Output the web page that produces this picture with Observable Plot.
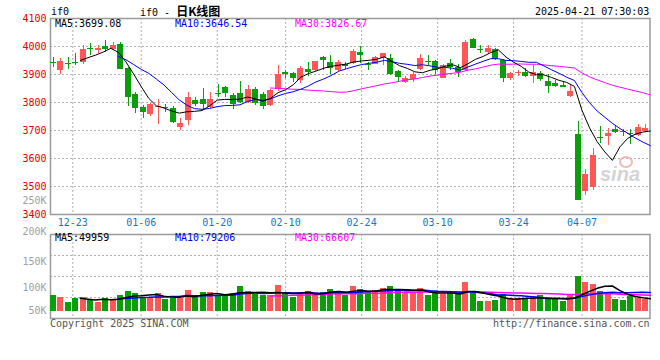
<!DOCTYPE html>
<html><head><meta charset="utf-8">
<script src="https://cdn.jsdelivr.net/npm/d3@7"></script>
<script src="https://cdn.jsdelivr.net/npm/@observablehq/plot@0.6"></script>
<style>
body{margin:0;background:#fff;}
#chart{position:relative;width:660px;height:360px;overflow:hidden;background:#fff;font-family:"DejaVu Sans Mono",monospace;}
#chart svg{position:absolute;left:0;top:0;}
.t{position:absolute;font-size:10px;white-space:pre;line-height:10px;font-family:"DejaVu Sans Mono",monospace;}
</style></head><body><div id="chart"></div>
<script>
// ---- data ----
const dates = ["12-18","12-19","12-20","12-23","12-24","12-25","12-26","12-27","12-30","12-31",
"01-02","01-03","01-06","01-07","01-08","01-09","01-10","01-13","01-14","01-15",
"01-16","01-17","01-20","01-21","01-22","01-23","01-24","01-27","02-05","02-06",
"02-07","02-10","02-11","02-12","02-13","02-14","02-17","02-18","02-19","02-20",
"02-21","02-24","02-25","02-26","02-27","02-28","03-03","03-04","03-05","03-06",
"03-07","03-10","03-11","03-12","03-13","03-14","03-17","03-18","03-19","03-20",
"03-21","03-24","03-25","03-26","03-27","03-28","03-31","04-01","04-02","04-03",
"04-07","04-08","04-09","04-10","04-11","04-14","04-15","04-16","04-17","04-18"];
const open = [3944,3913,3940,3944,3942,3994,3985,3999,3989,4008,3923,3830,3783,3756,3782,3782,3780,3710,3735,3808,3811,3782,3833,3855,3825,3833,3799,3846,3829,3788,3846,3908,3904,3880,3918,3913,3961,3943,3913,3935,3939,3980,3936,3936,3958,3956,3911,3873,3882,3917,3947,3946,3885,3939,3925,3913,4025,3988,3977,3989,3949,3885,3904,3906,3892,3905,3876,3867,3859,3822,3684,3481,3495,3676,3677,3705,3696,3691,3682,3698];
const high = [3961,3958,3961,3975,4002,4011,4002,4023,4015,4013,3925,3837,3789,3796,3811,3794,3786,3742,3837,3818,3850,3837,3866,3858,3832,3876,3862,3853,3837,3846,3931,3913,3908,3930,3944,3947,3965,3969,3949,3944,3990,3999,3942,3965,3975,3973,3915,3894,3906,3973,3968,3949,3935,3954,3937,4023,4030,4004,4004,3992,3954,3908,3915,3920,3931,3910,3901,3879,3874,3860,3731,3560,3636,3714,3708,3717,3703,3703,3722,3722];
const low = [3925,3899,3919,3931,3937,3969,3975,3977,3985,3917,3785,3761,3742,3750,3720,3763,3725,3701,3719,3785,3773,3780,3818,3817,3775,3795,3797,3789,3775,3787,3838,3886,3870,3868,3894,3912,3915,3901,3911,3918,3935,3939,3913,3935,3931,3895,3873,3868,3870,3914,3932,3899,3884,3913,3889,3911,3992,3975,3971,3951,3873,3880,3892,3889,3869,3876,3831,3854,3853,3817,3450,3467,3486,3653,3648,3690,3677,3651,3677,3693];
const close = [3940,3948,3935,3938,3990,3989,3994,3989,4005,3919,3817,3780,3763,3794,3786,3778,3727,3725,3818,3794,3792,3811,3827,3832,3792,3800,3846,3797,3787,3844,3901,3899,3885,3923,3908,3946,3949,3920,3943,3930,3982,3967,3932,3961,3975,3899,3889,3886,3899,3958,3943,3915,3933,3925,3906,4014,3994,3984,3994,3954,3885,3904,3908,3892,3908,3881,3857,3857,3855,3839,3451,3543,3612,3672,3689,3693,3692,3687,3711,3708];
const volume = [85100,80900,69900,78700,80900,75900,70600,78700,74400,85100,93400,89300,81500,81500,89300,76600,79400,79400,95500,81500,91400,91400,85800,83600,89300,103500,93400,87200,85800,85100,105500,88700,81500,87200,93400,91400,91400,97500,93400,85100,103500,97500,91400,95500,99500,103500,97500,89300,89300,99500,85100,89300,87800,89300,89300,111400,89300,72200,72200,75000,87200,78700,78700,76600,78700,85100,76600,76600,72200,85100,122900,111400,107500,93400,87200,76600,74400,83000,79400,77200];
const priceTicks = [3400,3500,3600,3700,3800,3900,4000,4100];
const volumeTicks = [50000,100000,150000,200000,250000];
const dateTicks = ["12-23","01-06","01-20","02-10","02-24","03-10","03-24","04-07"];
const maWindows = [30,10,5];
const priceLegend = ["MA5:3699.08","MA10:3646.54","MA30:3826.67"];
const volumeLegend = ["MA5:49959","MA10:79206","MA30:66607"];

// ---- styles ----
const UP = "#ff5757", DOWN = "#0a9f0a";
const MA_COLORS = {5: "#000000", 10: "#0000ff", 30: "#ff00ff"};
const GRID = "#b0b0b0";
const W = 660, H = 360;

const bars = dates.map((date, i) => ({date, open: open[i], high: high[i], low: low[i], close: close[i], volume: volume[i], dir: close[i] >= open[i] ? "up" : "down"}));

const color = {domain: ["up", "down"], range: [UP, DOWN]};
const candleX = {type: "band", domain: dates, range: [49, 649], padding: 0, round: false, axis: null};
const lineX = {type: "point", domain: dates, range: [49.5, 649.9], padding: 0, round: false, axis: null};
const priceY = {domain: [3400, 4100], axis: null};
const volY = {type: "pow", exponent: 1.3, domain: [50000, 250000], range: [310.5, 200], clamp: true, axis: null};
const mainM = {marginTop: 18, marginBottom: 146, marginLeft: 50, marginRight: 10.5};
const volM = {marginTop: 234, marginBottom: 42, marginLeft: 50, marginRight: 10.5};

const chart = document.getElementById("chart");
function layer(opts) {
  const svg = Plot.plot({width: W, height: H, color, ...opts,
    style: {background: "transparent", overflow: "visible", fontFamily: "DejaVu Sans Mono, monospace", fontSize: "10px"}});
  chart.appendChild(svg);
}
const dotted = {stroke: GRID, strokeOpacity: 1, strokeDasharray: "2,2"};

// main: grid + x labels + frame
layer({...mainM, x: lineX, y: priceY, marks: [
  Plot.gridY(priceTicks.slice(1, -1), dotted),
  Plot.gridX(dateTicks, dotted),
  Plot.axisX(dateTicks, {anchor: "bottom", tickSize: 0, tickPadding: 4, fill: "#1478c8", label: null}),
  Plot.frame({stroke: "#9a9a9a", strokeWidth: 1.5})
]});
// main: candles + price axis
layer({...mainM, x: candleX, y: priceY, marks: [
  Plot.axisY(priceTicks, {anchor: "left", tickSize: 0, tickPadding: 4, fill: "#e00000", label: null, tickFormat: d => String(d)}),
  Plot.ruleX(bars, {x: "date", y1: "low", y2: "high", stroke: "dir", shapeRendering: "crispEdges"}),
  Plot.barY(bars, {x: "date", y1: "open", y2: "close", fill: "dir", insetLeft: 0.75, insetRight: 0.75, shapeRendering: "crispEdges"})
]});
// main: moving averages
layer({...mainM, x: lineX, y: priceY, marks: maWindows.map(k =>
  Plot.lineY(bars, Plot.windowY({k, anchor: "end", reduce: "mean", strict: true}, {x: "date", y: "close", stroke: MA_COLORS[k], strokeWidth: 1}))
)});
// volume: grid + frame
layer({...volM, x: lineX, y: {domain: [0, 4], axis: null}, marks: [
  Plot.gridY([1, 2, 3], dotted),
  Plot.gridX(dateTicks, dotted),
  Plot.frame({stroke: "#9a9a9a", strokeWidth: 1.5})
]});
// volume: bars + axis
layer({...volM, x: candleX, y: volY, marks: [
  Plot.axisY(volumeTicks, {anchor: "left", tickSize: 0, tickPadding: 4, fill: "#a0a0a0", label: null, tickFormat: d => d / 1000 + "K"}),
  Plot.barY(bars, {x: "date", y: "volume", fill: "dir", insetLeft: 0.75, insetRight: 0.75, shapeRendering: "crispEdges"})
]});
// volume: moving averages
layer({...volM, x: lineX, y: volY, marks: maWindows.map(k =>
  Plot.lineY(bars, Plot.windowY({k, anchor: "end", reduce: "mean", strict: true}, {x: "date", y: "volume", stroke: MA_COLORS[k], strokeWidth: 1.5}))
)});

// ---- texts ----
function txt(s, left, top, style = "") {
  const d = document.createElement("div");
  d.className = "t";
  d.style.cssText = `left:${left}px;top:${top}px;${style}`;
  d.innerHTML = s;
  chart.appendChild(d);
}
txt("if0", 51, 7);
txt('if0 - <span style="font-family:\'Noto Sans CJK SC\';font-size:12px;font-weight:bold;">日K线图</span>', 140, 6);
txt("2025-04-21 07:30:03", 535, 7);
const legendColors = ["#000000", "#0000ee", "#ff00ff"];
priceLegend.forEach((s, j) => txt(s, 55 + 120 * j, 19, `color:${legendColors[j]}`));
volumeLegend.forEach((s, j) => txt(s, 55 + 120 * j, 233, `color:${legendColors[j]}`));
txt("Copyright 2025 SINA.COM", 50, 319, "color:#555");
txt("http://finance.sina.com.cn", 493, 319, "color:#555");
txt("sina", 600, 164, "font-family:'Liberation Sans';font-size:20px;line-height:20px;font-weight:bold;font-style:italic;color:#d4d4d4;");
txt("", 619, 156, "width:10px;height:8px;border:2px solid #f3b8b8;border-radius:50%;");
</script></body></html>
